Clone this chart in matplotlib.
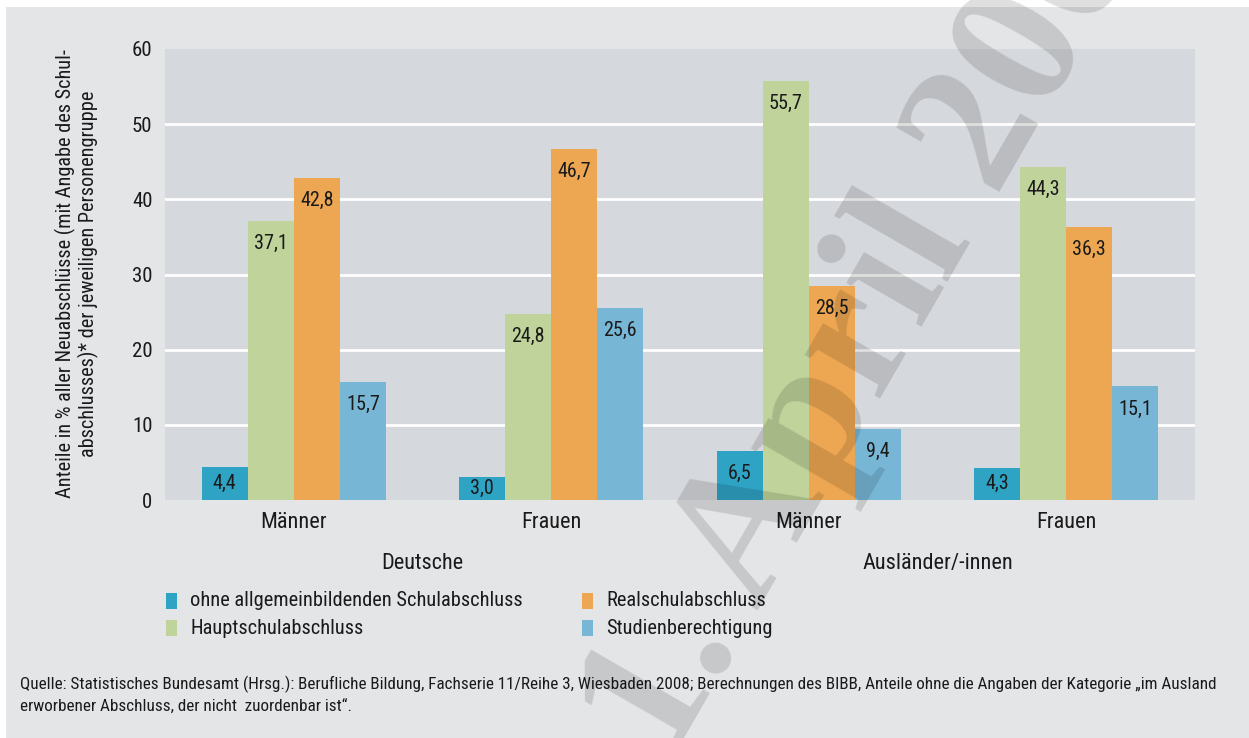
import numpy as np
import matplotlib
matplotlib.use("Agg")
import matplotlib.pyplot as plt
from matplotlib import font_manager
from matplotlib.patches import Rectangle

# data
groups = ["Deutsche", "Ausländer/-innen"]
subgroups = ["Männer", "Frauen", "Männer", "Frauen"]
series = ["ohne allgemeinbildenden Schulabschluss", "Hauptschulabschluss",
          "Realschulabschluss", "Studienberechtigung"]
ohne = [4.4, 3.0, 6.5, 4.3]
haupt = [37.1, 24.8, 55.7, 44.3]
real = [42.8, 46.7, 28.5, 36.3]
studien = [15.7, 25.6, 9.4, 15.1]
yticks = [0, 10, 20, 30, 40, 50, 60]

colors = ["#2ea3c4", "#c0d39b", "#eda752", "#78b6d6"]
values = [ohne, haupt, real, studien]
ink = "#1a1a1a"

# narrow sans (Roboto Condensed) if the system has it
fonts = font_manager.fontManager.ttflist
narrow = [f.name for f in fonts if f.name in ("Roboto Condensed", "Liberation Sans Narrow")]
if narrow:
    plt.rcParams["font.family"] = [narrow[0], "DejaVu Sans"]
    k = 1.0
else:
    plt.rcParams["font.family"] = ["DejaVu Sans"]
    k = 0.82

W, H = 1249, 738
fig = plt.figure(figsize=(W / 100, H / 100), dpi=100, facecolor="white")

def fx(px):
    return px / W

def fy(py):
    return 1 - py / H

# outer gray panel
fig.patches.append(Rectangle((fx(6), 0), 1 - fx(6), fy(7), transform=fig.transFigure,
                             facecolor="#e4e5e7", edgecolor="none", zorder=-10))

ax = fig.add_axes([fx(165), fy(500), fx(1195) - fx(165), fy(49) - fy(500)])
ax.set_facecolor("#d5d8dc")
for s in ax.spines.values():
    s.set_visible(False)

x = np.arange(len(subgroups))
bw = 0.179
for i, (vals, col) in enumerate(zip(values, colors)):
    pos = x + (i - 1.5) * bw
    ax.bar(pos, vals, width=bw, color=col, zorder=3)
    for p, v in zip(pos, vals):
        ax.text(p, max(v - 3, v / 2), f"{v:.1f}".replace(".", ","), ha="center", va="center",
                fontsize=14.5 * k, color=ink, zorder=4)

for t in yticks[1:-1]:
    ax.axhline(t, color="white", lw=2, zorder=1)

ax.set_xlim(-0.5, 3.5)
ax.set_ylim(0, 60)
ax.set_yticks(yticks)
ax.set_yticklabels([str(t) for t in yticks], fontsize=15 * k)
ax.set_xticks(x)
ax.set_xticklabels(subgroups, fontsize=16 * k)
ax.tick_params(axis="both", length=0, colors=ink)
ax.tick_params(axis="y", pad=9)
ax.tick_params(axis="x", pad=9)

# group labels
for gi, g in enumerate(groups):
    ax.text(gi * 2 + 0.5, -0.14, g, transform=ax.get_xaxis_transform(), ha="center",
            va="center", fontsize=16 * k, color=ink)

fig.text(fx(77), fy(274), "Anteile in % aller Neuabschlüsse (mit Angabe des Schul-\n"
         "abschlusses)* der jeweiligen Personengruppe", rotation=90, ha="center",
         va="center", fontsize=14.6 * k, linespacing=1.15, color=ink)

# legend
leg_pos = [(166, 601), (166, 628), (582, 601), (582, 628)]
for (lx, ly), name, col in zip(leg_pos, series, colors):
    fig.patches.append(Rectangle((fx(lx), fy(ly + 8)), fx(11), fy(0) - fy(16),
                                 transform=fig.transFigure, facecolor=col, edgecolor="none"))
    fig.text(fx(lx + 24), fy(ly), name, ha="left", va="center", fontsize=14.7 * k, color=ink)

fig.text(fx(20), fy(684), "Quelle: Statistisches Bundesamt (Hrsg.): Berufliche Bildung, Fachserie 11/Reihe 3, "
         "Wiesbaden 2008; Berechnungen des BIBB, Anteile ohne die Angaben der Kategorie „im Ausland",
         ha="left", va="center", fontsize=12.3 * k, color=ink)
fig.text(fx(20), fy(707), "erworbener Abschluss, der nicht  zuordenbar ist“.",
         ha="left", va="center", fontsize=12.3 * k, color=ink)

# watermark
fig.text(fx(668), fy(766), "1. April 2009", rotation=60, rotation_mode="anchor", ha="left",
         va="baseline", fontsize=136, fontweight="bold", family="Liberation Serif",
         color="black", alpha=0.13, zorder=10)

fig.savefig("out.png", dpi=100, facecolor=fig.get_facecolor())
